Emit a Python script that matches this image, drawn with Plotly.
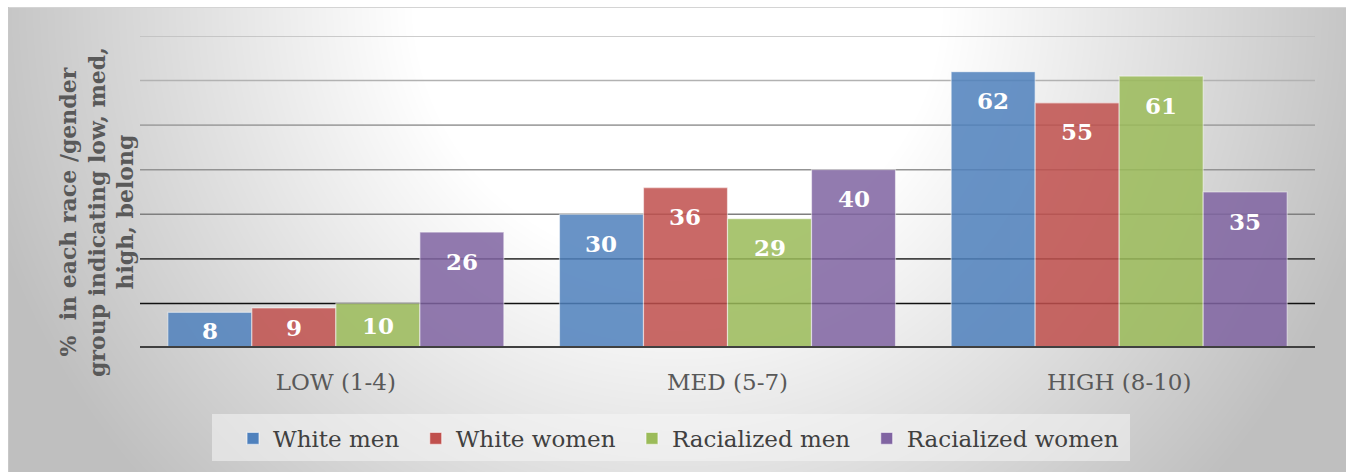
import base64
import struct
import zlib

import numpy as np
import plotly.graph_objects as go

# ---- data -------------------------------------------------------------
categories = ["LOW (1-4)", "MED (5-7)", "HIGH (8-10)"]
series_names = ["White men", "White women", "Racialized men", "Racialized women"]
white_men = [8, 30, 62]
white_women = [9, 36, 55]
racialized_men = [10, 29, 61]
racialized_women = [26, 40, 35]
series_values = [white_men, white_women, racialized_men, racialized_women]
series_colors = ["#4F81BD", "#C0504D", "#9BBB59", "#8064A2"]
y_title = "%  in each race /gender<br>group indicating low, med,<br>high, belong"

# ---- geometry (pixels) ------------------------------------------------
W, H = 1346, 472
PLOT_L, PLOT_R, PLOT_T, PLOT_B = 140, 1315, 36, 348
Y_MAX = 70
BARGAP = 0.142
SERIF = "DejaVu Serif"
ENTRY_PAD = "\u2002"  # extra room after each legend entry


def px_x(px):
    return (px - PLOT_L) / (PLOT_R - PLOT_L)


def px_y(py):
    return (PLOT_B - py) / (PLOT_B - PLOT_T)


def gray_png(arr):
    """Encode a 2-D uint8 array as a grayscale PNG data URI."""
    h, w = arr.shape
    raw = b"".join(b"\x00" + arr[r].tobytes() for r in range(h))

    def chunk(tag, data):
        body = tag + data
        return struct.pack(">I", len(data)) + body + struct.pack(">I", zlib.crc32(body) & 0xFFFFFFFF)

    png = (b"\x89PNG\r\n\x1a\n"
           + chunk(b"IHDR", struct.pack(">IIBBBBB", w, h, 8, 0, 0, 0, 0))
           + chunk(b"IDAT", zlib.compress(raw, 9))
           + chunk(b"IEND", b""))
    return "data:image/png;base64," + base64.b64encode(png).decode()


# radial grey backdrop of the chart frame, bright at the top centre;
# it runs past the page edges so the frame has no visible right/bottom side
FX0, FY0 = 8, 7
FX1, FY1 = W + 24, H + 24
yy, xx = np.mgrid[FY0:FY1, FX0:FX1]
rad = np.hypot(xx - 677.0, yy - 0.0)
shade = np.clip(255 - (rad - 266) * 0.14, 191, 255).astype(np.uint8)
shade[0, :] = 212   # frame top edge
shade[:, 0] = 200   # frame left edge
backdrop = gray_png(shade)

fig = go.Figure()

x_pos = list(range(len(categories)))
for name, vals, col in zip(series_names, series_values, series_colors):
    fig.add_trace(go.Bar(
        x=x_pos, y=vals, name=name + ENTRY_PAD,
        marker=dict(color=col, opacity=0.85,
                    line=dict(color="rgba(255,255,255,0.55)", width=1.2)),
        hoverinfo="skip",
    ))

# value labels, centred a fixed distance under each bar top
ppu = (PLOT_B - PLOT_T) / Y_MAX
bar_w = (1 - BARGAP) / len(series_names)
annotations = []
for i, vals in enumerate(series_values):
    off = (i - (len(series_names) - 1) / 2) * bar_w
    for j, v in enumerate(vals):
        annotations.append(dict(
            x=j + off, y=v, xref="x", yref="y", text=str(v), showarrow=False,
            yanchor="middle", yshift=-min(29, v * ppu / 2),
            font=dict(family=SERIF, size=23, color="white", weight="bold"),
        ))

annotations.append(dict(
    x=px_x(96), y=px_y(212), xref="paper", yref="paper", text=y_title,
    showarrow=False, textangle=-90, align="center",
    xanchor="center", yanchor="middle",
    font=dict(family=SERIF, size=22, color="#595959", weight="bold"),
))

# gridlines fade from light grey at the top to near black at the bottom
grid_levels = [10, 20, 30, 40, 50, 60, 70]
grid_colors = ["#111111", "#454545", "#7f7f7f", "#939393", "#a4a4a4", "#b2b2b2", "#bdbdbd"]
shapes = []
for lv, gc in zip(grid_levels, grid_colors):
    shapes.append(dict(type="line", xref="paper", yref="y", x0=0, x1=1, y0=lv, y1=lv,
                       line=dict(color=gc, width=1.6), layer="below"))

# legend panel
shapes.append(dict(type="rect", xref="paper", yref="paper",
                   x0=px_x(212), x1=px_x(1130), y0=px_y(414), y1=px_y(461),
                   fillcolor="rgba(246,246,246,0.55)", line=dict(width=0), layer="below"))
# category axis line
shapes.append(dict(type="line", xref="paper", yref="y", x0=0, x1=1, y0=0, y1=0,
                   line=dict(color="#404040", width=4), layer="above"))

fig.update_layout(
    width=W, height=H,
    margin=dict(l=PLOT_L, r=W - PLOT_R, t=PLOT_T, b=H - PLOT_B),
    paper_bgcolor="#c8c8c8", plot_bgcolor="rgba(0,0,0,0)",
    barmode="group", bargap=BARGAP, bargroupgap=0,
    images=[dict(source=backdrop, xref="paper", yref="paper",
                 x=px_x(FX0), y=px_y(FY0), sizex=px_x(FX1) - px_x(FX0),
                 sizey=px_y(FY0) - px_y(FY1), xanchor="left", yanchor="top",
                 sizing="stretch", layer="below")],
    xaxis=dict(range=[-0.5, len(categories) - 0.5], tickvals=x_pos, ticktext=categories,
               showgrid=False, zeroline=False, showline=False,
               ticks="outside", ticklen=13, tickcolor="rgba(0,0,0,0)",
               tickfont=dict(family=SERIF, size=23, color="#595959")),
    yaxis=dict(range=[0, Y_MAX], showgrid=False, zeroline=False, showline=False,
               showticklabels=False, ticks=""),
    legend=dict(orientation="h", x=px_x(233), y=px_y(417), xanchor="left", yanchor="top",
                bgcolor="rgba(0,0,0,0)", font=dict(family=SERIF, size=23, color="#404040"),
                traceorder="normal"),
    annotations=annotations,
    shapes=shapes + [
        # white strip above the chart frame
        dict(type="rect", xref="paper", yref="paper", x0=px_x(0), x1=px_x(W),
             y0=px_y(0), y1=px_y(FY0), fillcolor="white", line=dict(width=0), layer="below"),
        dict(type="rect", xref="paper", yref="paper", x0=px_x(0), x1=px_x(FX0),
             y0=px_y(0), y1=px_y(H), fillcolor="white", line=dict(width=0), layer="below"),
    ],
    showlegend=True,
)

fig.write_html("out.html")
